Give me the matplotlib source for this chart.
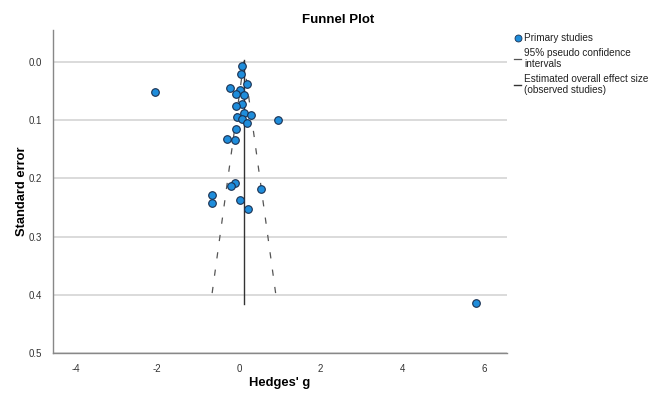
import numpy as np
import matplotlib
matplotlib.use("Agg")
import matplotlib.pyplot as plt
from matplotlib.lines import Line2D

plt.rcParams['font.family'] = ['Liberation Sans', 'DejaVu Sans']

# Primary studies: Hedges' g and its standard error
hedges_g = [0.07, 0.05, 0.19, -0.21, 0.02, -0.08, 0.12, 0.07, -0.08, 0.12,
            0.29, -0.05, 0.07, 0.95, 0.20, -0.08, -0.30, -0.10, -2.05,
            -0.09, -0.20, 0.54, -0.66, -0.66, 0.03, 0.23, 5.81]
std_err = [0.008, 0.021, 0.038, 0.046, 0.049, 0.055, 0.057, 0.073, 0.076, 0.089,
           0.091, 0.095, 0.098, 0.0995, 0.106, 0.116, 0.133, 0.135, 0.052,
           0.2075, 0.214, 0.218, 0.229, 0.242, 0.237, 0.252, 0.4145]

# Estimated overall effect and funnel extent
overall_effect = 0.12
max_se = 0.415
z95 = 1.96

x_ticks = [-4, -2, 0, 2, 4, 6]
x_tick_labels = ['-4', '-2', '0', '2', '4', '6']
y_ticks = [0.0, 0.1, 0.2, 0.3, 0.4, 0.5]
y_tick_labels = ['0.0', '0.1', '0.2', '0.3', '0.4', '0.5']

fig = plt.figure(figsize=(6.54, 3.94), dpi=100)
ax = fig.add_axes([53.3 / 654, 1 - 353.3 / 394, (506.7 - 53.3) / 654, (353.3 - 30) / 394])

# funnel
se_line = np.array([0.0, max_se])
ax.plot(overall_effect - z95 * se_line, se_line, color='#555555', lw=0.9,
        dashes=(5, 9), zorder=2)
ax.plot(overall_effect + z95 * se_line, se_line, color='#555555', lw=0.9,
        dashes=(5, 9), zorder=2)
ax.plot([overall_effect, overall_effect], [-0.003, max_se], color='#333333',
        lw=1.0, zorder=2)

ax.scatter(hedges_g, std_err, s=30, color='#1f8ddb', edgecolors='#1a3050',
           linewidths=0.8, zorder=3)

ax.set_xlim(-4.55, 6.56)
ax.set_ylim(0.5, -0.054)
ax.set_xticks(x_ticks)
ax.set_xticklabels(x_tick_labels)
ax.set_yticks(y_ticks)
ax.set_yticklabels(y_tick_labels)
ax.tick_params(length=0, labelsize=7, colors='#333333', pad=8)
ax.grid(axis='y', color='#d4d4d4', lw=1.2)
ax.set_axisbelow(True)
for side in ['top', 'right']:
    ax.spines[side].set_visible(False)
for side in ['left', 'bottom']:
    ax.spines[side].set_color('#888888')
    ax.spines[side].set_linewidth(1.0)

ax.set_xlabel("Hedges' g", fontsize=9.3, fontweight='bold')
ax.set_ylabel('Standard error', fontsize=9.3, fontweight='bold')
ax.xaxis.set_label_coords(0.5, -0.092)
ax.yaxis.set_label_coords(-0.069, 0.5)
ax.xaxis.label.set_va('center')
ax.yaxis.label.set_va('center')
fig.text(338 / 654, 1 - 20 / 394, 'Funnel Plot', ha='center', va='center',
         fontsize=9.5, fontweight='bold')

handles = [
    Line2D([], [], marker='o', ls='none', markersize=5, markerfacecolor='#1f8ddb',
           markeredgecolor='#1a3050', markeredgewidth=0.6),
    Line2D([], [], color='#555555', lw=0.9),
    Line2D([], [], color='#333333', lw=1.0),
]
labels = ['Primary studies', '95% pseudo confidence\nintervals',
          'Estimated overall effect size\n(observed studies)']
leg = fig.legend(handles, labels, loc='upper left',
                 bbox_to_anchor=(514 / 654, 1 - 33 / 394),
                 frameon=False, fontsize=7.2, handlelength=0.7, handletextpad=0.3,
                 labelspacing=0.55, borderaxespad=0, borderpad=0)
for t in leg.get_texts():
    t.set_linespacing(1.05)
    t.set_color('#222222')

fig.savefig('out.png', dpi=100)
